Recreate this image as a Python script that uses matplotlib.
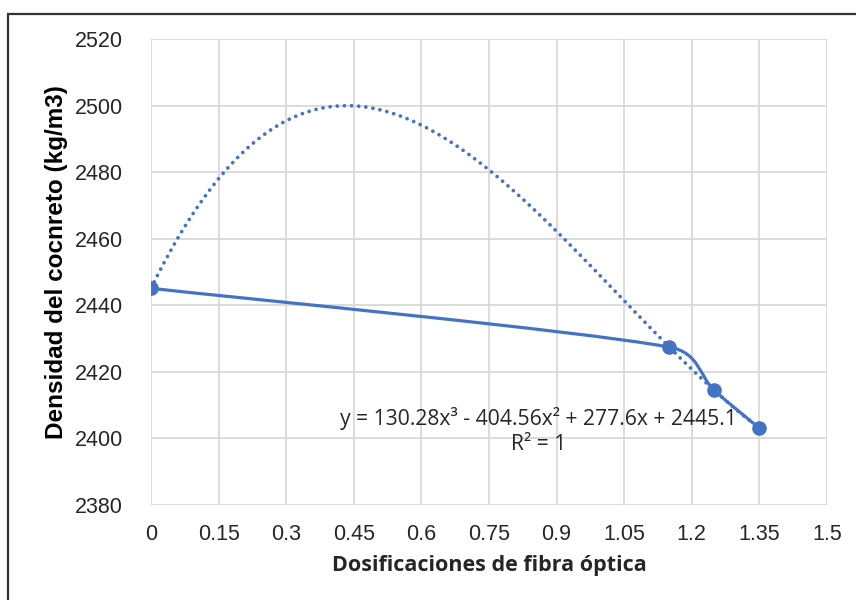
import matplotlib
matplotlib.use('Agg')
import matplotlib.pyplot as plt
import numpy as np
from matplotlib.path import Path
from matplotlib.patches import PathPatch, Rectangle

# data
dosis = [0, 1.15, 1.25, 1.35]
densidad = [2445.1, 2427.45, 2414.42, 2403.06]
xticks = [0, 0.15, 0.3, 0.45, 0.6, 0.75, 0.9, 1.05, 1.2, 1.35, 1.5]
xticklabels = ['0', '0.15', '0.3', '0.45', '0.6', '0.75', '0.9', '1.05', '1.2', '1.35', '1.5']
yticks = [2380, 2400, 2420, 2440, 2460, 2480, 2500, 2520]
eq_text = 'y = 130.28x³ - 404.56x² + 277.6x + 2445.1'
r2_text = 'R² = 1'

BLUE = '#4472C4'


def excel_smooth(p):
    "Bezier control points similar to Excel's smoothed line (display coords)"
    n = len(p)
    verts = [p[0]]
    codes = [Path.MOVETO]
    for i in range(n - 1):
        p0 = p[max(i - 1, 0)]
        p1 = p[i]
        p2 = p[i + 1]
        p3 = p[min(i + 2, n - 1)]
        d02 = np.hypot(*(p2 - p0))
        d12 = np.hypot(*(p2 - p1))
        d13 = np.hypot(*(p3 - p1))
        f1 = 1/6 if d02/6 < d12/2 else d12/d02/2
        f2 = 1/6 if d13/6 < d12/2 else d12/d13/2
        c1 = p1 + (p2 - p0)*f1
        c2 = p2 - (p3 - p1)*f2
        verts += [c1, c2, p2]
        codes += [Path.CURVE4]*3
    return np.array(verts), codes


def main():
    fig = plt.figure(figsize=(8.56, 6), dpi=100)
    ax = fig.add_axes([151/856, 1 - 505/600, (827 - 151)/856, (505 - 39)/600])
    ax.set_xlim(0, 1.5)
    ax.set_ylim(2380, 2520)

    ax.set_xticks(xticks)
    ax.set_xticklabels(xticklabels)
    ax.set_yticks(yticks)
    ax.tick_params(length=0, labelsize=15.5, colors='#262626')
    ax.tick_params(axis='x', pad=14)
    ax.tick_params(axis='y', pad=20)
    for lab in ax.get_xticklabels() + ax.get_yticklabels():
        lab.set_family('Liberation Sans')
    ax.grid(True, color='#d9d9d9', linewidth=1.3)
    ax.set_axisbelow(True)
    for s in ax.spines.values():
        s.set_visible(False)

    # polynomial trendline (cubic fit of the points, like Excel)
    coef = np.polyfit(dosis, densidad, 3)
    xt = np.linspace(dosis[0], dosis[-1], 400)
    ax.plot(xt, np.polyval(coef, xt), color=BLUE, linewidth=2.7,
            linestyle=(0, (0.01, 1.9)), dash_capstyle='round', zorder=2)

    # smoothed series line
    pts = ax.transData.transform(np.column_stack([dosis, densidad]))
    verts, codes = excel_smooth(pts)
    verts = ax.transData.inverted().transform(verts)
    ax.add_patch(PathPatch(Path(verts, codes), fill=False, edgecolor=BLUE,
                           linewidth=2.3, capstyle='round', zorder=3))
    ax.plot(dosis, densidad, 'o', color=BLUE, markersize=9.5, zorder=4)

    ax.text(0.86, 2406.0, eq_text, ha='center', va='center', fontsize=15.2,
            family='Open Sans', color='#262626')
    ax.text(0.86, 2398.2, r2_text, ha='center', va='center', fontsize=15.2,
            family='Open Sans', color='#262626')

    fig.text(57/856, 1 - 262/600, 'Densidad del cocnreto (kg/m3)', rotation=90,
             ha='center', va='center', fontsize=17.5, fontweight='bold',
             family='Liberation Sans', color='black')
    fig.text(489/856, 1 - 565/600, 'Dosificaciones de fibra óptica',
             ha='center', va='center', fontsize=15.5, fontweight='bold',
             family='Open Sans', color='#262626')

    # outer chart border
    fig.patches.append(Rectangle((8/856, -0.05), 1.2, 1 - 14/600 + 0.05,
                                 transform=fig.transFigure, fill=False,
                                 edgecolor='#333333', linewidth=1.6))

    fig.savefig('out.png', dpi=100)


main()
